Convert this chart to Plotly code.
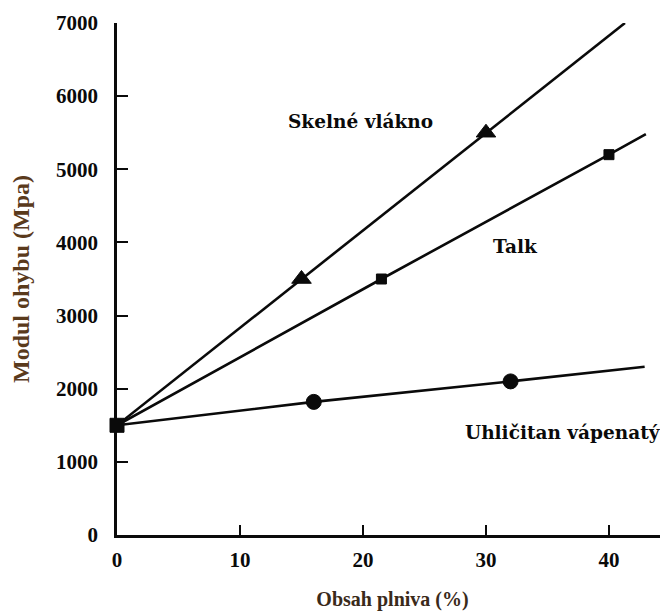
import plotly.graph_objects as go

# Data
glass_x = [0, 15, 30, 41.3]
glass_y = [1500, 3500, 5500, 7000]
talc_x = [0, 21.5, 40, 43.0]
talc_y = [1500, 3500, 5200, 5480]
caco3_x = [0, 16, 32, 42.9]
caco3_y = [1500, 1820, 2100, 2300]

x_ticks = [0, 10, 20, 30, 40]
y_ticks = [0, 1000, 2000, 3000, 4000, 5000, 6000, 7000]

line_col = "#0a0a0a"
fig = go.Figure()

def add_series(xs, ys, symbol, sizes):
    fig.add_trace(go.Scatter(
        x=xs, y=ys, mode="lines+markers",
        line=dict(color=line_col, width=2.6),
        marker=dict(symbol=symbol, size=sizes, color=line_col, opacity=1,
                    line=dict(color=line_col, width=1)),
        cliponaxis=False, showlegend=False))

add_series(glass_x, glass_y, "triangle-up", [0, 17, 17, 0])
add_series(caco3_x, caco3_y, "circle", [0, 15, 15, 0])
add_series(talc_x, talc_y, "square", [14, 10, 10, 0])

ann_font = dict(family="DejaVu Serif", size=18.5, color="#0a0a0a", weight="bold")
fig.add_annotation(x=19.8, y=5660, text="Skelné vlákno", showarrow=False, font=ann_font)
fig.add_annotation(x=32.4, y=3940, text="Talk", showarrow=False, font=ann_font)
fig.add_annotation(x=36.3, y=1395, text="Uhličitan vápenatý", showarrow=False, font=ann_font)

tick_font = dict(family="Liberation Serif", size=21, color="#0a0a0a", weight="bold")
fig.update_xaxes(
    range=[0, 44.8], tickvals=x_ticks, ticks="inside", ticklen=10, tickwidth=2,
    tickcolor=line_col, showline=True, linecolor=line_col, linewidth=2.5,
    showgrid=False, zeroline=False, tickfont=tick_font, ticklabelstandoff=4,
    automargin=False,
    title=dict(text="Obsah plniva (%)",
               font=dict(family="Liberation Serif", size=20, color="#3a2a1a", weight="bold"),
               standoff=22))
fig.update_yaxes(
    range=[0, 7000], tickvals=y_ticks, ticks="inside", ticklen=11, tickwidth=2,
    tickcolor=line_col, showline=True, linecolor=line_col, linewidth=2.5,
    showgrid=False, zeroline=False, tickfont=tick_font, ticklabelstandoff=12,
    automargin=False,
    title=dict(text="Modul ohybu (Mpa)",
               font=dict(family="Liberation Serif", size=24, color="#5a3a1c", weight="bold"),
               standoff=26))

# the page body adds an 8px offset, so the figure is 8px smaller with shifted margins
fig.update_layout(
    width=660, height=607,
    margin=dict(l=109, r=0, t=15, b=80),
    plot_bgcolor="white", paper_bgcolor="white")

fig.write_html("out.html")
